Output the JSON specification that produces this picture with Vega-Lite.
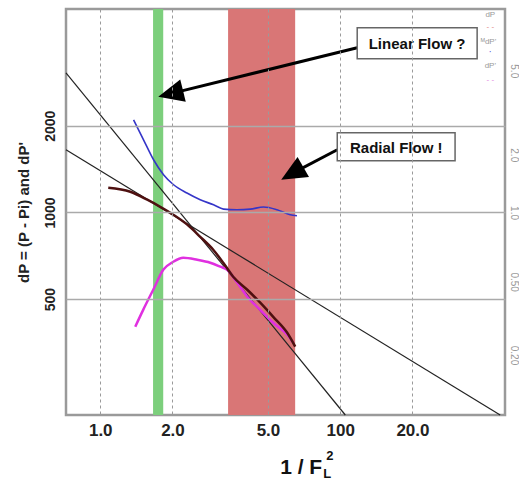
{
  "$schema": "https://vega.github.io/schema/vega-lite/v6.json",
  "width": 439,
  "height": 406,
  "autosize": {"type": "none"},
  "padding": {"left": 66, "top": 9, "right": 14, "bottom": 72},
  "background": "white",
  "config": {
    "view": {"stroke": "#9a9a9a", "strokeWidth": 2.5},
    "font": "Liberation Sans"
  },
  "datasets": {
    "bands": [
      {"band": "linear", "x": 1.66, "x2": 1.83, "y": 198, "y2": 5087},
      {"band": "radial", "x": 3.41, "x2": 6.49, "y": 198, "y2": 5087}
    ],
    "lines": [
      {"line": "a", "x": 0.72, "y": 3055},
      {"line": "a", "x": 10.5, "y": 198},
      {"line": "b", "x": 0.72, "y": 1651},
      {"line": "b", "x": 46.4, "y": 198}
    ],
    "curves": [
      {"series": "dP", "x": 1.08, "y": 1218},
      {"series": "dP", "x": 1.334, "y": 1180},
      {"series": "dP", "x": 1.57, "y": 1107},
      {"series": "dP", "x": 1.778, "y": 1046},
      {"series": "dP", "x": 2.015, "y": 982},
      {"series": "dP", "x": 2.304, "y": 907},
      {"series": "dP", "x": 2.61, "y": 823},
      {"series": "dP", "x": 2.957, "y": 742},
      {"series": "dP", "x": 3.255, "y": 669},
      {"series": "dP", "x": 3.581, "y": 598},
      {"series": "dP", "x": 4.099, "y": 539},
      {"series": "dP", "x": 4.642, "y": 486},
      {"series": "dP", "x": 5.258, "y": 434},
      {"series": "dP", "x": 6.013, "y": 382},
      {"series": "dP", "x": 6.494, "y": 342},
      {"series": "dPfit", "x": 1.377, "y": 2098},
      {"series": "dPfit", "x": 1.515, "y": 1788},
      {"series": "dPfit", "x": 1.668, "y": 1524},
      {"series": "dPfit", "x": 1.835, "y": 1352},
      {"series": "dPfit", "x": 2.021, "y": 1248},
      {"series": "dPfit", "x": 2.298, "y": 1168},
      {"series": "dPfit", "x": 2.61, "y": 1107},
      {"series": "dPfit", "x": 2.966, "y": 1063},
      {"series": "dPfit", "x": 3.265, "y": 1027},
      {"series": "dPfit", "x": 3.712, "y": 1022},
      {"series": "dPfit", "x": 4.217, "y": 1027},
      {"series": "dPfit", "x": 4.791, "y": 1044},
      {"series": "dPfit", "x": 5.449, "y": 1022},
      {"series": "dPfit", "x": 6.19, "y": 982},
      {"series": "dPfit", "x": 6.601, "y": 974},
      {"series": "dPd", "x": 1.399, "y": 401},
      {"series": "dPd", "x": 1.51, "y": 459},
      {"series": "dPd", "x": 1.663, "y": 539},
      {"series": "dPd", "x": 1.83, "y": 632},
      {"series": "dPd", "x": 2.015, "y": 674},
      {"series": "dPd", "x": 2.218, "y": 696},
      {"series": "dPd", "x": 2.536, "y": 685},
      {"series": "dPd", "x": 2.873, "y": 669},
      {"series": "dPd", "x": 3.162, "y": 648},
      {"series": "dPd", "x": 3.382, "y": 632},
      {"series": "dPd", "x": 3.723, "y": 570},
      {"series": "dPd", "x": 4.099, "y": 510},
      {"series": "dPd", "x": 4.642, "y": 459},
      {"series": "dPd", "x": 5.258, "y": 414},
      {"series": "dPd", "x": 6.013, "y": 376},
      {"series": "dPd", "x": 6.37, "y": 353}
    ],
    "shafts": [
      {"x": 1.965, "y": 2585, "x2": 11.77, "y2": 3731},
      {"x": 6.31, "y": 1367, "x2": 9.72, "y2": 1651}
    ],
    "heads": [
      {"x": 1.965, "y": 2585, "angle": 166},
      {"x": 6.31, "y": 1367, "angle": 150}
    ],
    "boxes": [
      {"label": "Linear Flow ?", "x": 11.77, "x2": 37.2, "y": 4378, "y2": 3417, "tx": 20.9, "ty": 3852},
      {"label": "Radial Flow !", "x": 9.72, "x2": 30.1, "y": 1891, "y2": 1512, "tx": 17.12, "ty": 1677}
    ],
    "legend": [
      {"kind": "label", "text": "dP", "x": 42.2, "y": 4859},
      {"kind": "dP", "text": "- -", "x": 42.2, "y": 4414},
      {"kind": "label", "text": "ᴹdP'", "x": 41.5, "y": 3914},
      {"kind": "dPfit", "text": "·", "x": 42.2, "y": 3614},
      {"kind": "label", "text": "dP'", "x": 42.2, "y": 3231},
      {"kind": "dPd", "text": "- -", "x": 42.2, "y": 2889}
    ],
    "xtitle": [
      {"part": "main", "text": "1 / F", "x": 8.41, "y": 123.4},
      {"part": "sub", "text": "L", "x": 8.5, "y": 119.6},
      {"part": "sup", "text": "2", "x": 8.74, "y": 138}
    ]
  },
  "resolve": {"axis": {"y": "independent"}},
  "layer": [
    {
      "encoding": {
        "x": {
          "field": "x", "type": "quantitative",
          "scale": {"type": "log", "domain": [0.72, 48.6], "nice": false},
          "axis": {
            "title": null, "values": [1, 2, 5, 10, 20],
            "labelExpr": "datum.value == 10 ? '100' : format(datum.value, '.1f')",
            "labelFont": "Liberation Sans", "labelFontWeight": "bold", "labelFontSize": 17,
            "labelColor": "#222", "labelPadding": 7,
            "ticks": false, "domain": false,
            "grid": true, "gridColor": "#9a9a9a", "gridDash": [3, 3], "gridWidth": 1,
            "zindex": 1
          }
        },
        "y": {
          "field": "y", "type": "quantitative",
          "scale": {"type": "log", "domain": [198, 5087], "nice": false},
          "axis": {
            "title": "dP = (P - Pi)  and  dP'", "values": [500, 1000, 2000], "format": "d",
            "labelAngle": -90, "labelAlign": "center", "labelBaseline": "bottom",
            "labelFont": "Liberation Sans", "labelFontWeight": "bold", "labelFontSize": 14,
            "labelColor": "#222", "labelPadding": 9,
            "titleFont": "Liberation Sans", "titleFontWeight": "bold", "titleFontSize": 15,
            "titleColor": "#222", "titlePadding": 12,
            "ticks": false, "domain": false,
            "grid": true, "gridColor": "#aaaaaa", "gridWidth": 1.5,
            "zindex": 1
          }
        }
      },
      "layer": [
        {
          "data": {"name": "bands"},
          "mark": {"type": "rect"},
          "encoding": {
            "x2": {"field": "x2"},
            "y2": {"field": "y2"},
            "color": {"field": "band", "type": "nominal", "legend": null,
              "scale": {"domain": ["linear", "radial"], "range": ["#7ccf7c", "#d97676"]}}
          }
        },
        {
          "data": {"name": "lines"},
          "mark": {"type": "line", "color": "#222", "strokeWidth": 1.2},
          "encoding": {"detail": {"field": "line"}}
        },
        {
          "data": {"name": "curves"},
          "transform": [{"filter": "datum.series == 'dPd'"}],
          "mark": {"type": "line", "color": "#e030e0", "strokeWidth": 2.5, "interpolate": "monotone"}
        },
        {
          "data": {"name": "curves"},
          "transform": [{"filter": "datum.series == 'dP'"}],
          "mark": {"type": "line", "color": "#4e1010", "strokeWidth": 2.5, "interpolate": "monotone"}
        },
        {
          "data": {"name": "curves"},
          "transform": [{"filter": "datum.series == 'dPfit'"}],
          "mark": {"type": "line", "color": "#3535c8", "strokeWidth": 1.6, "interpolate": "monotone"}
        },
        {
          "data": {"name": "shafts"},
          "mark": {"type": "rule", "color": "#000", "strokeWidth": 3},
          "encoding": {"x2": {"field": "x2"}, "y2": {"field": "y2"}}
        },
        {
          "data": {"name": "heads"},
          "mark": {"type": "point", "shape": "M1,0L-1,-0.9L-1,0.9Z", "filled": true, "color": "#000", "opacity": 1, "size": 650},
          "encoding": {"angle": {"field": "angle", "type": "quantitative", "scale": null}}
        },
        {
          "data": {"name": "boxes"},
          "mark": {"type": "rect", "fill": "white", "stroke": "#666", "strokeWidth": 1.5},
          "encoding": {"x2": {"field": "x2"}, "y2": {"field": "y2"}}
        },
        {
          "data": {"name": "boxes"},
          "mark": {"type": "text", "font": "Liberation Sans", "fontWeight": "bold", "fontSize": 15, "color": "#111", "align": "center", "baseline": "middle"},
          "encoding": {"x": {"field": "tx"}, "y": {"field": "ty"}, "text": {"field": "label"}}
        },
        {
          "data": {"name": "legend"},
          "transform": [{"filter": "datum.kind == 'label'"}],
          "mark": {"type": "text", "fontSize": 8, "color": "#999", "align": "center", "baseline": "middle"},
          "encoding": {"text": {"field": "text"}}
        },
        {
          "data": {"name": "legend"},
          "transform": [{"filter": "datum.kind == 'dP'"}],
          "mark": {"type": "text", "fontSize": 8, "color": "#e08080", "align": "center", "baseline": "middle"},
          "encoding": {"text": {"field": "text"}}
        },
        {
          "data": {"name": "legend"},
          "transform": [{"filter": "datum.kind == 'dPfit'"}],
          "mark": {"type": "text", "fontSize": 10, "color": "#6060e0", "align": "center", "baseline": "middle"},
          "encoding": {"text": {"field": "text"}}
        },
        {
          "data": {"name": "legend"},
          "transform": [{"filter": "datum.kind == 'dPd'"}],
          "mark": {"type": "text", "fontSize": 8, "color": "#e080e0", "align": "center", "baseline": "middle"},
          "encoding": {"text": {"field": "text"}}
        },
        {
          "data": {"name": "xtitle"},
          "transform": [{"filter": "datum.part == 'main'"}],
          "mark": {"type": "text", "font": "Liberation Sans", "fontWeight": "bold", "fontSize": 21, "color": "#111", "align": "right", "baseline": "alphabetic"},
          "encoding": {"text": {"field": "text"}}
        },
        {
          "data": {"name": "xtitle"},
          "transform": [{"filter": "datum.part != 'main'"}],
          "mark": {"type": "text", "font": "Liberation Sans", "fontWeight": "bold", "fontSize": 13, "color": "#111", "align": "left", "baseline": "alphabetic"},
          "encoding": {"text": {"field": "text"}}
        }
      ]
    },
    {
      "data": {"values": [{"y": 1000}]},
      "mark": {"type": "rule", "opacity": 0},
      "encoding": {
        "y": {
          "field": "y", "type": "quantitative",
          "scale": {"type": "log", "domain": [198, 5087], "nice": false},
          "axis": {
            "orient": "right", "title": null,
            "values": [3105, 1586, 999, 575, 320],
            "labelExpr": "datum.value > 3000 ? '5.0' : datum.value > 1500 ? '2.0' : datum.value > 900 ? '1.0' : datum.value > 500 ? '0.50' : '0.20'",
            "labelAngle": 90, "labelAlign": "center", "labelBaseline": "bottom",
            "labelFontSize": 10, "labelColor": "#999", "labelPadding": 3,
            "ticks": false, "domain": false, "grid": false
          }
        }
      }
    }
  ]
}
